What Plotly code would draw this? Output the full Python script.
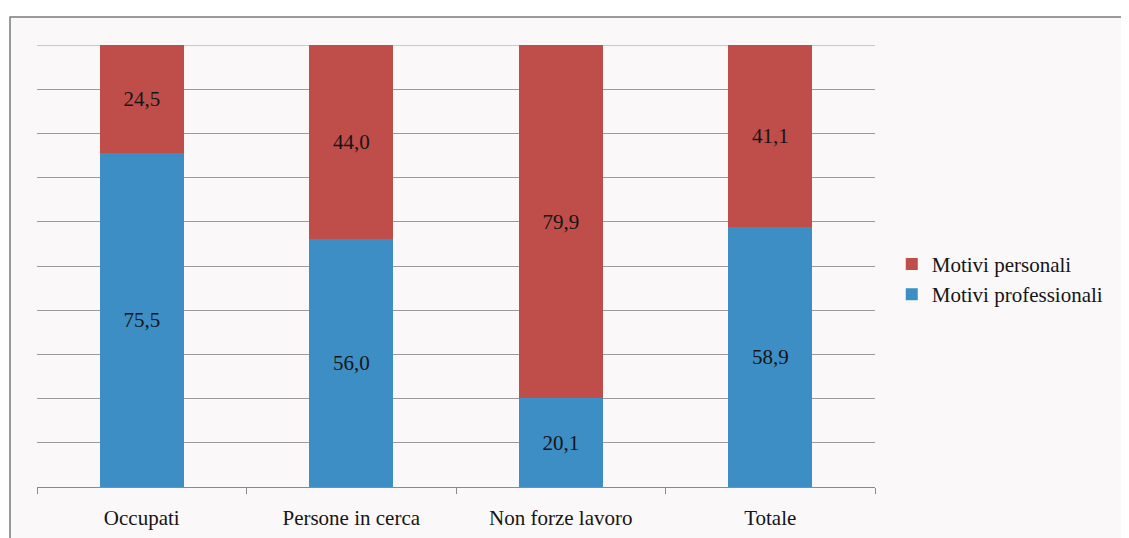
import plotly.graph_objects as go

categories = ["Occupati", "Persone in cerca", "Non forze lavoro", "Totale"]
professionali = [75.5, 56.0, 20.1, 58.9]
personali = [24.5, 44.0, 79.9, 41.1]

# page body adds an 8px margin, so the figure is 8px smaller than the window
W, H = 1121, 530
L, R, T, B = 29, 254, 37, 51
pw, ph = W - L - R, H - T - B

label_font = dict(family="Liberation Serif", size=21, color="#151515")

fig = go.Figure()
fig.add_trace(go.Bar(
    x=categories, y=professionali, name="Motivi professionali",
    marker=dict(color="#3D8EC4", line=dict(width=0)),
    texttemplate="%{y:.1f}", textposition="inside", insidetextanchor="middle",
    textfont=label_font,
))
fig.add_trace(go.Bar(
    x=categories, y=personali, name="Motivi personali",
    marker=dict(color="#BF4D49", line=dict(width=0)),
    texttemplate="%{y:.1f}", textposition="inside", insidetextanchor="middle",
    textfont=label_font,
))

# outer frame of the original chart box
fig.add_shape(
    type="rect", xref="paper", yref="paper", layer="below",
    x0=(2 - L) / pw, x1=(W + 20 - L) / pw,
    y0=-(B + 20) / ph, y1=(H - 9 - B) / ph,
    fillcolor="#FBF8F9", line=dict(color="#7a7a7a", width=1.5),
)
# top gridline (plotly skips the one on the plot edge)
fig.add_shape(
    type="line", xref="paper", yref="y", layer="below",
    x0=0, x1=1, y0=100, y1=100,
    line=dict(color="#9a9a9a", width=1),
)

fig.update_layout(
    width=W, height=H,
    margin=dict(l=L, r=R, t=T, b=B, autoexpand=False),
    barmode="stack", bargap=0.6,
    separators=",.",
    paper_bgcolor="white", plot_bgcolor="rgba(0,0,0,0)",
    font=dict(family="Liberation Serif", size=21, color="#151515"),
    showlegend=True,
    legend=dict(
        x=1.02, y=0.47, xanchor="left", yanchor="middle",
        traceorder="reversed",
        font=dict(family="Liberation Serif", size=21, color="#151515"),
        bgcolor="rgba(0,0,0,0)", itemwidth=30, tracegroupgap=0,
    ),
)
fig.update_xaxes(
    showline=True, linecolor="#8a8a8a", linewidth=1,
    ticks="outside", tickson="boundaries", ticklen=6, tickcolor="#8a8a8a",
    tickfont=label_font, ticklabelstandoff=12, showgrid=False, automargin=False,
)
fig.update_yaxes(
    range=[0, 100], dtick=10, showticklabels=False,
    showgrid=True, gridcolor="#9a9a9a", gridwidth=1,
    zeroline=False, showline=False, automargin=False,
)

fig.write_html("out.html")
